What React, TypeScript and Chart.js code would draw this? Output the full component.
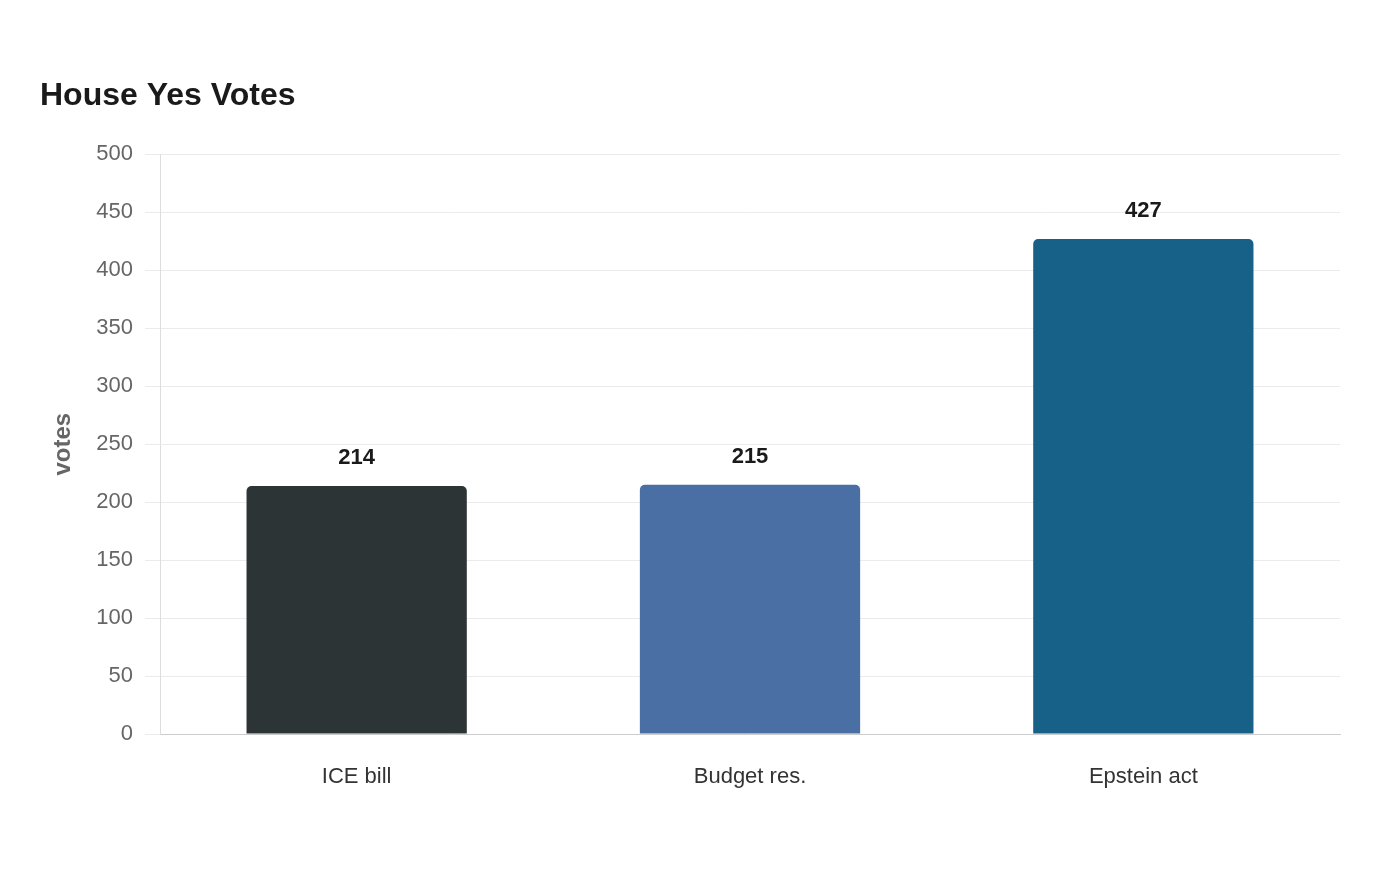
import React, { useEffect, useRef } from "react";
import { Chart, registerables } from "chart.js";

Chart.register(...registerables);

const categories = ["ICE bill", "Budget res.", "Epstein act"];
const yesVotes = [214, 215, 427];
const barColors = ["#2d3436", "#4a6fa5", "#176087"];
const titleText = "House Yes Votes";
const yAxisTitle = "votes";

const FONT = "'Liberation Sans', Arial, sans-serif";

// Writes each bar's value in bold above its top edge
const valueLabels = {
  id: "valueLabels",
  afterDatasetsDraw(chart: any) {
    const { ctx } = chart;
    const meta = chart.getDatasetMeta(0);
    ctx.save();
    ctx.font = `bold 22px ${FONT}`;
    ctx.fillStyle = "#1a1a1a";
    ctx.textAlign = "center";
    ctx.textBaseline = "middle";
    meta.data.forEach((bar: any, i: number) => {
      ctx.fillText(String(yesVotes[i]), bar.x, bar.y - 28);
    });
    ctx.restore();
  },
};

export default function App() {
  const canvasRef = useRef<HTMLCanvasElement | null>(null);

  useEffect(() => {
    if (!canvasRef.current) return;
    const chart = new Chart(canvasRef.current, {
      type: "bar",
      data: {
        labels: categories,
        datasets: [
          {
            data: yesVotes,
            backgroundColor: barColors,
            borderRadius: 5,
            borderSkipped: "start",
            categoryPercentage: 1,
            barPercentage: 0.56,
          },
        ],
      },
      options: {
        animation: false,
        responsive: true,
        maintainAspectRatio: false,
        layout: { padding: { left: 40, right: 60, top: 0, bottom: 66 } },
        plugins: {
          legend: { display: false },
          tooltip: { enabled: false },
          title: {
            display: true,
            text: titleText,
            align: "start",
            color: "#1a1a1a",
            font: { family: FONT, size: 32, weight: "bold" },
            padding: { top: 77, bottom: 39 },
          },
        },
        scales: {
          x: {
            grid: { display: false },
            border: { color: "#cccccc", width: 1 },
            ticks: {
              color: "#333333",
              font: { family: FONT, size: 22 },
              padding: 22,
            },
            afterFit(scale: any) {
              scale.height = 80;
            },
          },
          y: {
            min: 0,
            max: 500,
            ticks: {
              stepSize: 50,
              color: "#666666",
              font: { family: FONT, size: 22 },
              padding: 12,
            },
            grid: { color: "#ebebeb", tickLength: 15, lineWidth: 1 },
            border: { color: "#dddddd", width: 1 },
            title: {
              display: true,
              text: yAxisTitle,
              color: "#666666",
              font: { family: FONT, size: 24, weight: "bold" },
              padding: { top: 9, bottom: 0 },
            },
            afterFit(scale: any) {
              scale.width = 120;
            },
          },
        },
      },
      plugins: [valueLabels],
    });
    return () => chart.destroy();
  }, []);

  return (
    <div style={{ position: "absolute", left: 0, top: 0, width: 1400, height: 880, background: "#ffffff" }}>
      <canvas ref={canvasRef} />
    </div>
  );
}
